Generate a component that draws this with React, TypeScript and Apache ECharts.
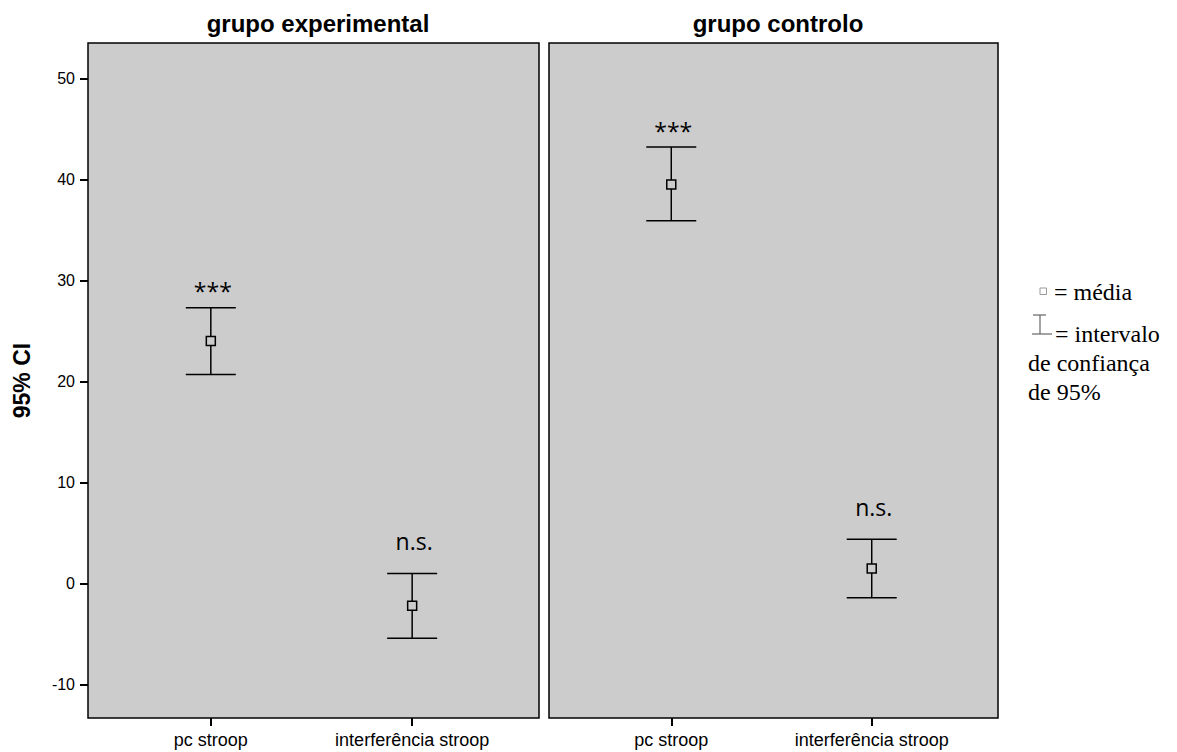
import React, { useEffect, useRef } from "react";
import * as echarts from "echarts";

const panels = ["grupo experimental", "grupo controlo"];
const categories = ["pc stroop", "interferência stroop"];
const catPositions = [1, 2];
const yTicks = [-10, 0, 10, 20, 30, 40, 50];

// mean, lower and upper bounds of the 95% CI, per panel and category
const experimentalMean = [24.0, -2.2];
const experimentalLow = [20.7, -5.4];
const experimentalHigh = [27.3, 1.0];
const controlMean = [39.5, 1.5];
const controlLow = [35.9, -1.4];
const controlHigh = [43.2, 4.4];
const experimentalSig = ["***", "n.s."];
const controlSig = ["***", "n.s."];

const PANEL_BG = "#cccccc";

function buildSeries(idx: number, means: number[], lows: number[], highs: number[], sig: string[]) {
  const data = catPositions.map((x, i) => [x, means[i], lows[i], highs[i]]);
  return {
    type: "custom",
    xAxisIndex: idx,
    yAxisIndex: idx,
    data,
    clip: false,
    renderItem: (params: any, api: any) => {
      const x = api.value(0);
      const m = api.value(1);
      const lo = api.value(2);
      const hi = api.value(3);
      const pHi = api.coord([x, hi]);
      const pLo = api.coord([x, lo]);
      const pM = api.coord([x, m]);
      const half = 25;
      const st = { stroke: "#000", lineWidth: 1.5 };
      const label = sig[params.dataIndex];
      const off = label === "n.s." ? 21 : 5;
      return {
        type: "group",
        children: [
          { type: "line", shape: { x1: pHi[0], y1: pHi[1], x2: pLo[0], y2: pLo[1] }, style: st },
          { type: "line", shape: { x1: pHi[0] - half, y1: pHi[1], x2: pHi[0] + half, y2: pHi[1] }, style: st },
          { type: "line", shape: { x1: pLo[0] - half, y1: pLo[1], x2: pLo[0] + half, y2: pLo[1] }, style: st },
          {
            type: "rect",
            shape: { x: pM[0] - 4.5, y: pM[1] - 4.5, width: 9, height: 9 },
            style: { fill: PANEL_BG, stroke: "#000", lineWidth: 1.5 },
          },
          {
            type: "text",
            style: {
              text: label,
              x: pHi[0] + 2,
              y: pHi[1] - off,
              align: "center",
              verticalAlign: "bottom",
              fontFamily: "Open Sans",
              fontSize: 23,
              fill: "#000",
            },
          },
        ],
      };
    },
  };
}

export default function App() {
  const ref = useRef<HTMLDivElement>(null);
  useEffect(() => {
    document.body.style.margin = "0";
    if (!ref.current) return;
    const chart = echarts.init(ref.current, null, { renderer: "svg" });
    const grids = [
      { left: 88, right: 1177 - 539, top: 43, bottom: 752 - 718 },
      { left: 549, right: 1177 - 998, top: 43, bottom: 752 - 718 },
    ];
    const xAxis = grids.map((_, i) => ({
      type: "value",
      gridIndex: i,
      position: "bottom",
      min: 0.39,
      max: 2.63,
      splitLine: { show: false },
      axisLine: { show: false, onZero: false },
      axisTick: { show: true, length: 8, lineStyle: { color: "#000", width: 2 }, customValues: catPositions },
      axisLabel: {
        customValues: catPositions,
        formatter: (v: number) => categories[catPositions.indexOf(v)] ?? "",
        color: "#000",
        fontFamily: "Liberation Sans",
        fontSize: 18,
        margin: 13,
      },
    }));
    const yAxis = grids.map((_, i) => ({
      type: "value",
      gridIndex: i,
      position: "left",
      min: -13.3,
      max: 53.5,
      splitLine: { show: false },
      axisLine: { show: false, onZero: false },
      name: i === 0 ? "95% CI" : "",
      nameLocation: "middle",
      nameGap: 55,
      nameTextStyle: { fontFamily: "Liberation Sans", fontWeight: "bold", fontSize: 23, color: "#000" },
      axisTick: { show: i === 0, length: 8, lineStyle: { color: "#000", width: 2 }, customValues: yTicks },
      axisLabel: {
        show: i === 0,
        customValues: yTicks,
        color: "#000",
        fontFamily: "Liberation Sans",
        fontSize: 16,
        margin: 13,
      },
    }));
    const legendFont = { fontFamily: "Liberation Serif", fontSize: 24, fill: "#000" };
    chart.setOption({
      animation: false,
      backgroundColor: "#fff",
      title: panels.map((t, i) => ({
        text: t,
        left: i === 0 ? 313 : 773,
        top: 6,
        textAlign: "center",
        textStyle: { fontFamily: "Liberation Sans", fontWeight: "bold", fontSize: 24, color: "#000" },
      })),
      grid: grids.map((g) => ({
        ...g,
        show: true,
        backgroundColor: PANEL_BG,
        borderColor: "#000",
        borderWidth: 1.5,
      })),
      xAxis,
      yAxis,
      series: [
        buildSeries(0, experimentalMean, experimentalLow, experimentalHigh, experimentalSig),
        buildSeries(1, controlMean, controlLow, controlHigh, controlSig),
      ],
      graphic: [
        { type: "rect", shape: { x: 1040, y: 288, width: 6.5, height: 6.5 }, style: { fill: "#fff", stroke: "#999", lineWidth: 1 } },
        { type: "text", style: { ...legendFont, text: "= média", x: 1054, y: 292, verticalAlign: "middle" } },
        { type: "line", shape: { x1: 1033, y1: 315, x2: 1046, y2: 315 }, style: { stroke: "#666", lineWidth: 1.2 } },
        { type: "line", shape: { x1: 1040, y1: 315, x2: 1040, y2: 334 }, style: { stroke: "#666", lineWidth: 1.2 } },
        { type: "line", shape: { x1: 1032, y1: 334, x2: 1052, y2: 334 }, style: { stroke: "#666", lineWidth: 1.2 } },
        { type: "text", style: { ...legendFont, text: "= intervalo", x: 1055, y: 334, verticalAlign: "middle" } },
        { type: "text", style: { ...legendFont, text: "de confiança", x: 1028, y: 363, verticalAlign: "middle" } },
        { type: "text", style: { ...legendFont, text: "de 95%", x: 1028, y: 392, verticalAlign: "middle" } },
      ],
    });
    return () => chart.dispose();
  }, []);
  return <div ref={ref} style={{ width: 1177, height: 752 }} />;
}
